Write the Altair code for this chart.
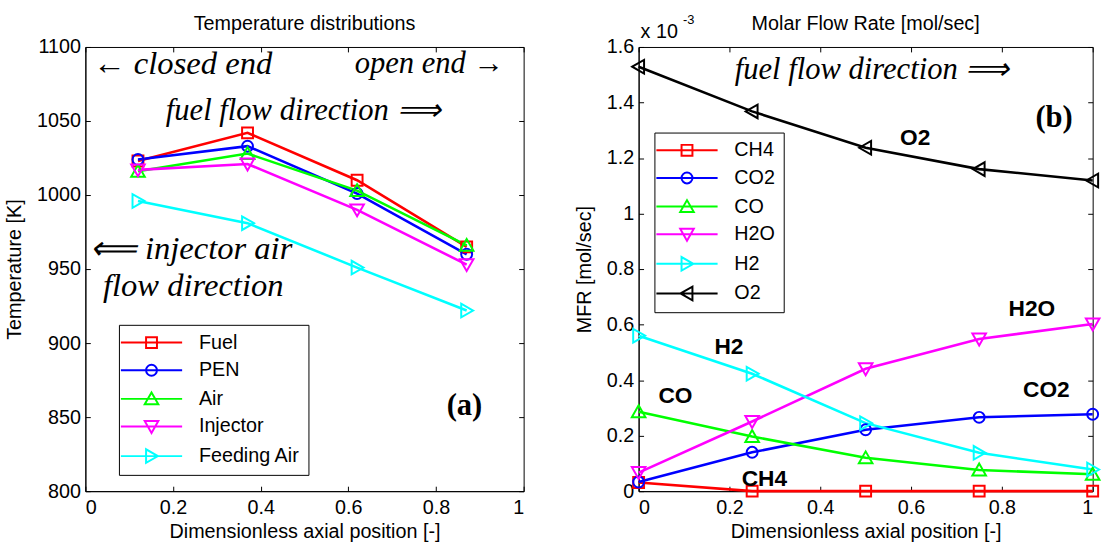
import altair as alt
import pandas as pd

# ---- Panel (a): temperature distributions along the cell ----
temp_pos = [0.12, 0.37, 0.62, 0.87]
temp_names = ["Fuel", "PEN", "Air", "Injector", "Feeding Air"]
temp_fuel = [1023, 1042, 1010, 965]
temp_pen = [1024, 1033, 1001, 960]
temp_air = [1016, 1028, 1003, 966]
temp_injector = [1017, 1021, 990, 953]
temp_feeding_air = [996, 981, 951, 922]

# ---- Panel (b): molar flow rates, in units of 1e-3 mol/sec ----
mfr_pos = [0.0, 0.25, 0.5, 0.75, 1.0]
mfr_names = ["CH4", "CO2", "CO", "H2O", "H2", "O2"]
mfr_ch4 = [0.031, 0.0, 0.0, 0.0, 0.0]
mfr_co2 = [0.033, 0.140, 0.221, 0.266, 0.277]
mfr_co = [0.286, 0.197, 0.120, 0.076, 0.061]
mfr_h2o = [0.067, 0.251, 0.441, 0.548, 0.602]
mfr_h2 = [0.560, 0.423, 0.245, 0.138, 0.078]
mfr_o2 = [1.529, 1.368, 1.237, 1.160, 1.119]

# axis ticks
pos_ticks = [0, 0.2, 0.4, 0.6, 0.8, 1.0]
temp_ticks = [800, 850, 900, 950, 1000, 1050, 1100]
mfr_ticks = [0, 0.2, 0.4, 0.6, 0.8, 1.0, 1.2, 1.4, 1.6]

# annotations
temp_title = {"label": ["Temperature distributions"], "pos": [0.5], "T": [1100]}
temp_note_closed = {"label": ["\u2190 closed end"], "pos": [0.222], "T": [1088.3]}
temp_note_open = {"label": ["open end \u2192"], "pos": [0.785], "T": [1088.3]}
temp_notes_fuel = {"label": ["fuel flow direction \u27f9"], "pos": [0.497], "T": [1056.7]}
temp_notes_left = {"label": ["\u27f8 injector air", "flow direction"],
                   "pos": [0.010, 0.040], "T": [963.3, 938.4]}
temp_tag = {"label": ["(a)"], "pos": [0.865], "T": [857.1]}

mfr_title = {"label": ["Molar Flow Rate [mol/sec]"], "pos": [0.5], "mfr": [1.6]}
mfr_notes = {"label": ["fuel flow direction \u27f9"], "pos": [0.514], "mfr": [1.517]}
mfr_tag = {"label": ["(b)"], "pos": [0.915], "mfr": [1.344]}
mfr_species_labels = {"label": ["O2", "H2O", "CO2", "H2", "CO", "CH4"],
                      "pos": [0.609, 0.866, 0.898, 0.199, 0.081, 0.277],
                      "mfr": [1.27, 0.655, 0.364, 0.518, 0.343, 0.043]}

COLORS = ["#ff0000", "#0000ff", "#00ff00", "#ff00ff", "#00ffff", "#000000"]
# open marker outlines: square, circle, triangle up / down / right / left
MARKERS = [
    "M-0.8,-0.8H0.8V0.8H-0.8Z",
    "M0.8,0A0.8,0.8,0,1,1,-0.8,0A0.8,0.8,0,1,1,0.8,0Z",
    "M0,-0.95L1,0.8H-1Z",
    "M0,0.95L1,-0.8H-1Z",
    "M0.95,0L-0.8,-1V1Z",
    "M-0.95,0L0.8,-1V1Z",
]

SANS = "Liberation Sans"
SERIF = "Liberation Serif"
FS = 20
INWARD = {"expr": "-5"}


def legend_shape_expr(names, paths):
    # each legend entry: a line segment drawn through its marker
    expr = "'M-4.5,0H4.5'"
    for n, p in reversed(list(zip(names, paths))):
        expr = f"datum.value === '{n}' ? 'M-4.5,0H4.5{p}' : ({expr})"
    return expr


def make_legend(names, paths, lx, ly):
    return alt.Legend(
        title=None, orient="none", legendX=lx, legendY=ly,
        symbolType={"expr": legend_shape_expr(names, paths)},
        symbolSize=190, symbolStrokeWidth=2, symbolOffset=15, labelOffset=38,
        symbolFillColor="transparent",
        labelFont=SANS, labelFontSize=FS, labelColor="black",
        rowPadding=8, padding=8, strokeColor="black", fillColor="white",
        cornerRadius=0,
    )


def long_frame(pos, names, series, yname):
    rows = []
    for name, vals in zip(names, series):
        for p, v in zip(pos, vals):
            rows.append({"pos": p, yname: v, "series": name})
    return pd.DataFrame(rows)


def text_layer(data, x, y, **kw):
    return alt.Chart(pd.DataFrame(data)).mark_text(color="black", baseline="middle", **kw).encode(
        x=x, y=y, text="label:N")


def series_layers(df, names, x, y, legend):
    """Lines for all series (carrying the legend) plus one marker layer per series."""
    color = alt.Color("series:N", scale=alt.Scale(domain=names, range=COLORS[:len(names)]),
                      legend=legend)
    color_plain = alt.Color("series:N", scale=alt.Scale(domain=names, range=COLORS[:len(names)]),
                            legend=None)
    layers = [alt.Chart(df).mark_line(strokeWidth=2.6).encode(x=x, y=y, color=color)]
    for name, path in zip(names, MARKERS):
        layers.append(
            alt.Chart(df).transform_filter(alt.datum.series == name)
            .mark_point(shape=path, filled=False, size=190, strokeWidth=2, opacity=1)
            .encode(x=x, y=y, color=color_plain)
        )
    return layers


def mirror_ticks(df, yfield, ydomain, yticks):
    """Box-style inward ticks on the top and right edges."""
    return alt.Chart(df).mark_point(opacity=0).encode(
        x=alt.X("pos:Q", scale=alt.Scale(domain=[0, 1], nice=False),
                axis=alt.Axis(orient="top", values=pos_ticks, labels=False, title=None,
                              domain=False, tickSize=INWARD)),
        y=alt.Y(f"{yfield}:Q", scale=alt.Scale(domain=ydomain, nice=False, zero=False),
                axis=alt.Axis(orient="right", values=yticks, labels=False, title=None,
                              domain=False, tickSize=INWARD)),
    )


x_axis_kw = dict(values=pos_ticks, format="~g", title="Dimensionless axial position [-]",
                 tickSize=INWARD, labelPadding=12, titlePadding=4)

# ---------------- panel (a) ----------------
temp_df = long_frame(temp_pos, temp_names,
                     [temp_fuel, temp_pen, temp_air, temp_injector, temp_feeding_air], "T")
xa = alt.X("pos:Q", scale=alt.Scale(domain=[0, 1], nice=False), axis=alt.Axis(**x_axis_kw))
ya = alt.Y("T:Q", scale=alt.Scale(domain=[800, 1100], nice=False, zero=False),
           axis=alt.Axis(values=temp_ticks, format="d", title="Temperature [K]",
                         tickSize=INWARD, labelPadding=10, titlePadding=12))
leg_a = make_legend(temp_names, MARKERS[:5], 34, 281.5)

content_a = alt.layer(
    *series_layers(temp_df, temp_names, xa, ya, leg_a),
    text_layer(temp_title, xa, ya, font=SANS, fontSize=FS, align="center", dy=-23),
    text_layer(temp_note_closed, xa, ya, font=SERIF, fontStyle="italic", fontSize=33, align="center"),
    text_layer(temp_note_open, xa, ya, font=SERIF, fontStyle="italic", fontSize=31, align="center"),
    text_layer(temp_notes_fuel, xa, ya, font=SERIF, fontStyle="italic", fontSize=31, align="center"),
    text_layer(temp_notes_left, xa, ya, font=SERIF, fontStyle="italic", fontSize=33, align="left"),
    text_layer(temp_tag, xa, ya, font=SERIF, fontWeight="bold", fontSize=31, align="center"),
)
panel_a = alt.layer(content_a, mirror_ticks(temp_df, "T", [800, 1100], temp_ticks)).resolve_axis(
    x="independent", y="independent").properties(width=444, height=450)

# ---------------- panel (b) ----------------
mfr_df = long_frame(mfr_pos, mfr_names,
                    [mfr_ch4, mfr_co2, mfr_co, mfr_h2o, mfr_h2, mfr_o2], "mfr")
xb = alt.X("pos:Q", scale=alt.Scale(domain=[0, 1], nice=False), axis=alt.Axis(**x_axis_kw))
yb = alt.Y("mfr:Q", scale=alt.Scale(domain=[0, 1.6], nice=False),
           axis=alt.Axis(values=mfr_ticks, format="~g", title="MFR [mol/sec]",
                         tickSize=INWARD, labelPadding=10, titlePadding=12))
leg_b = make_legend(mfr_names, MARKERS, 16, 86.7)

# "x 10^-3" exponent note above the y axis
exp_txt = {"label": ["x 10"], "pos": [0.0], "mfr": [1.6]}
sup_txt = {"label": ["-3"], "pos": [0.0], "mfr": [1.6]}

content_b = alt.layer(
    *series_layers(mfr_df, mfr_names, xb, yb, leg_b),
    text_layer(mfr_title, xb, yb, font=SANS, fontSize=FS, align="center", dy=-23),
    text_layer(mfr_notes, xb, yb, font=SERIF, fontStyle="italic", fontSize=31, align="center"),
    text_layer(mfr_tag, xb, yb, font=SERIF, fontWeight="bold", fontSize=31, align="center"),
    text_layer(mfr_species_labels, xb, yb, font=SANS, fontWeight="bold", fontSize=23, align="center"),
    text_layer(exp_txt, xb, yb, font=SANS, fontSize=FS, align="left", dx=2, dy=-15),
    text_layer(sup_txt, xb, yb, font=SANS, fontSize=13, align="left", dx=45, dy=-27),
)
panel_b = alt.layer(content_b, mirror_ticks(mfr_df, "mfr", [0, 1.6], mfr_ticks)).resolve_axis(
    x="independent", y="independent").properties(width=460, height=450)

chart = (
    alt.hconcat(panel_a, panel_b, spacing=49.5)
    .resolve_scale(color="independent")
    .resolve_legend(color="independent")
    .properties(padding={"left": 4.5, "top": 10, "right": 2, "bottom": 2}, background="white")
    .configure_view(stroke="black", strokeWidth=1)
    .configure_axis(grid=False, domainColor="black", tickColor="black",
                    labelFont=SANS, labelFontSize=FS, labelColor="black",
                    titleFont=SANS, titleFontSize=FS, titleFontWeight="normal",
                    titleColor="black")
)

chart.save("out.html", embed_options={"renderer": "svg", "actions": False})
